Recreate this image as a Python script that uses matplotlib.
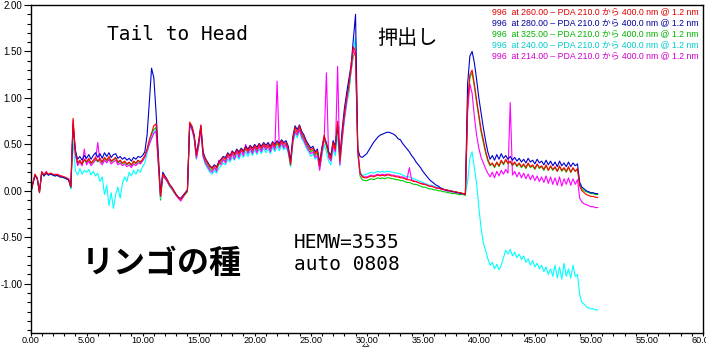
import numpy as np
import matplotlib
matplotlib.use("Agg")
import matplotlib.pyplot as plt
from matplotlib.ticker import MultipleLocator

# sampling grid (minutes), 0.2 min step, 0 .. 50.6
time_min = np.round(np.arange(0, 50.61, 0.2), 2)

red_260 = [
    -0.04, 0.08, 0.18, 0.14, -0.02, 0.21, 0.17, 0.20, 0.18, 0.19,
    0.18, 0.17, 0.18, 0.16, 0.16, 0.15, 0.14, 0.13, 0.04, 0.78,
    0.42, 0.30, 0.33, 0.29, 0.34, 0.31, 0.35, 0.30, 0.33, 0.36,
    0.32, 0.35, 0.31, 0.36, 0.33, 0.37, 0.32, 0.34, 0.36, 0.31,
    0.33, 0.30, 0.32, 0.29, 0.31, 0.28, 0.32, 0.30, 0.33, 0.31,
    0.34, 0.38, 0.45, 0.55, 0.62, 0.70, 0.72, 0.35, -0.06, 0.18,
    0.15, 0.12, 0.07, 0.04, 0.00, -0.04, -0.07, -0.09, -0.06, -0.03,
    0.00, 0.74, 0.70, 0.60, 0.38, 0.52, 0.71, 0.40, 0.34, 0.30,
    0.26, 0.24, 0.27, 0.25, 0.30, 0.33, 0.36, 0.34, 0.40, 0.37,
    0.42, 0.39, 0.44, 0.40, 0.45, 0.42, 0.47, 0.43, 0.48, 0.44,
    0.49, 0.45, 0.50, 0.46, 0.51, 0.47, 0.50, 0.46, 0.52, 0.48,
    0.53, 0.49, 0.54, 0.50, 0.52, 0.45, 0.28, 0.55, 0.68, 0.63,
    0.70, 0.62, 0.58, 0.52, 0.48, 0.44, 0.46, 0.40, 0.43, 0.27,
    0.45, 0.60, 0.50, 0.40, 0.35, 0.52, 0.45, 0.75, 0.32, 0.60,
    0.82, 1.00, 1.12, 1.35, 1.55, 1.50, 0.45, 0.20, 0.15, 0.14,
    0.14, 0.15, 0.16, 0.15, 0.16, 0.17, 0.16, 0.17, 0.16, 0.17,
    0.17, 0.16, 0.16, 0.15, 0.15, 0.14, 0.14, 0.13, 0.12, 0.12,
    0.11, 0.10, 0.10, 0.09, 0.08, 0.07, 0.07, 0.06, 0.05, 0.05,
    0.04, 0.03, 0.03, 0.02, 0.02, 0.01, 0.01, 0.00, 0.00, -0.01,
    -0.01, -0.02, -0.02, -0.03, -0.04, 0.95, 1.25, 1.30, 1.15, 0.98,
    0.82, 0.66, 0.55, 0.43, 0.34, 0.28, 0.30, 0.26, 0.31, 0.27,
    0.33, 0.29, 0.34, 0.30, 0.32, 0.28, 0.31, 0.27, 0.30, 0.26,
    0.29, 0.25, 0.30, 0.26, 0.28, 0.24, 0.29, 0.25, 0.27, 0.23,
    0.28, 0.22, 0.27, 0.23, 0.26, 0.21, 0.27, 0.22, 0.25, 0.21,
    0.26, 0.20, 0.25, 0.21, 0.24, 0.05, 0.00, -0.02, -0.04, -0.05,
    -0.06, -0.06, -0.07, -0.07,
]

blue_280 = [
    -0.03, 0.07, 0.17, 0.13, -0.01, 0.20, 0.16, 0.19, 0.17, 0.18,
    0.17, 0.16, 0.17, 0.15, 0.15, 0.14, 0.13, 0.12, 0.04, 0.72,
    0.44, 0.34, 0.37, 0.33, 0.38, 0.35, 0.39, 0.34, 0.38, 0.41,
    0.36, 0.40, 0.35, 0.41, 0.37, 0.41, 0.36, 0.39, 0.40, 0.35,
    0.37, 0.34, 0.36, 0.33, 0.35, 0.32, 0.36, 0.34, 0.37, 0.36,
    0.38, 0.42, 0.60, 0.95, 1.32, 1.22, 0.85, 0.40, -0.04, 0.20,
    0.16, 0.12, 0.07, 0.04, 0.00, -0.04, -0.07, -0.08, -0.05, -0.02,
    0.01, 0.72, 0.69, 0.60, 0.40, 0.53, 0.70, 0.42, 0.35, 0.31,
    0.27, 0.25, 0.28, 0.26, 0.31, 0.34, 0.37, 0.36, 0.41, 0.38,
    0.43, 0.40, 0.45, 0.42, 0.46, 0.43, 0.48, 0.45, 0.49, 0.46,
    0.50, 0.47, 0.51, 0.48, 0.52, 0.49, 0.52, 0.48, 0.53, 0.50,
    0.54, 0.51, 0.55, 0.52, 0.54, 0.48, 0.32, 0.58, 0.70, 0.66,
    0.71, 0.64, 0.60, 0.54, 0.50, 0.46, 0.48, 0.42, 0.45, 0.30,
    0.47, 0.58, 0.52, 0.42, 0.38, 0.54, 0.48, 0.72, 0.36, 0.65,
    0.88, 1.05, 1.20, 1.35, 1.62, 1.90, 0.45, 0.37, 0.36, 0.38,
    0.40, 0.44, 0.48, 0.52, 0.55, 0.58, 0.60, 0.61, 0.62, 0.63,
    0.63, 0.62, 0.61, 0.59, 0.56, 0.55, 0.51, 0.48, 0.45, 0.42,
    0.38, 0.35, 0.31, 0.28, 0.25, 0.21, 0.18, 0.15, 0.12, 0.10,
    0.08, 0.06, 0.05, 0.03, 0.02, 0.01, 0.00, 0.00, -0.01, -0.01,
    -0.02, -0.02, -0.03, -0.03, -0.03, 1.15, 1.45, 1.50, 1.38, 1.20,
    1.00, 0.84, 0.68, 0.54, 0.42, 0.34, 0.38, 0.33, 0.39, 0.34,
    0.40, 0.35, 0.38, 0.34, 0.37, 0.33, 0.36, 0.32, 0.35, 0.31,
    0.34, 0.30, 0.35, 0.31, 0.33, 0.29, 0.34, 0.30, 0.32, 0.28,
    0.33, 0.28, 0.32, 0.27, 0.31, 0.26, 0.32, 0.27, 0.30, 0.26,
    0.31, 0.26, 0.30, 0.27, 0.29, 0.09, 0.04, 0.02, 0.00, -0.01,
    -0.02, -0.02, -0.03, -0.03,
]

green_325 = [
    -0.04, 0.07, 0.17, 0.13, -0.02, 0.19, 0.16, 0.19, 0.17, 0.18,
    0.17, 0.16, 0.17, 0.15, 0.15, 0.14, 0.13, 0.12, 0.03, 0.70,
    0.40, 0.29, 0.32, 0.28, 0.33, 0.30, 0.34, 0.29, 0.32, 0.34,
    0.31, 0.34, 0.30, 0.35, 0.32, 0.35, 0.31, 0.33, 0.35, 0.30,
    0.32, 0.29, 0.31, 0.28, 0.30, 0.27, 0.31, 0.29, 0.32, 0.30,
    0.33, 0.37, 0.44, 0.52, 0.60, 0.66, 0.68, 0.30, -0.10, 0.15,
    0.13, 0.10, 0.05, 0.02, -0.02, -0.05, -0.08, -0.10, -0.07, -0.04,
    -0.01, 0.70, 0.67, 0.58, 0.36, 0.49, 0.68, 0.38, 0.32, 0.28,
    0.24, 0.22, 0.25, 0.23, 0.28, 0.31, 0.34, 0.32, 0.38, 0.35,
    0.40, 0.37, 0.42, 0.38, 0.43, 0.40, 0.45, 0.41, 0.46, 0.42,
    0.47, 0.43, 0.48, 0.44, 0.49, 0.45, 0.48, 0.44, 0.50, 0.46,
    0.51, 0.47, 0.52, 0.48, 0.50, 0.43, 0.27, 0.52, 0.65, 0.60,
    0.67, 0.60, 0.56, 0.50, 0.46, 0.42, 0.44, 0.38, 0.41, 0.26,
    0.43, 0.56, 0.48, 0.38, 0.33, 0.49, 0.43, 0.68, 0.30, 0.56,
    0.78, 0.95, 1.06, 1.28, 1.45, 1.48, 0.40, 0.16, 0.12, 0.11,
    0.11, 0.12, 0.13, 0.12, 0.13, 0.14, 0.13, 0.14, 0.13, 0.14,
    0.14, 0.13, 0.13, 0.12, 0.12, 0.11, 0.11, 0.10, 0.09, 0.09,
    0.08, 0.07, 0.07, 0.06, 0.05, 0.04, 0.04, 0.03, 0.02, 0.02,
    0.01, 0.01, 0.00, 0.00, -0.01, -0.01, -0.02, -0.02, -0.03, -0.03,
    -0.03, -0.04, -0.04, -0.04, -0.05, 0.90, 1.22, 1.27, 1.12, 0.95,
    0.79, 0.63, 0.52, 0.41, 0.32, 0.27, 0.29, 0.25, 0.30, 0.26,
    0.32, 0.28, 0.33, 0.29, 0.31, 0.27, 0.30, 0.26, 0.29, 0.25,
    0.28, 0.24, 0.29, 0.25, 0.27, 0.23, 0.28, 0.24, 0.26, 0.22,
    0.27, 0.22, 0.26, 0.22, 0.25, 0.21, 0.26, 0.21, 0.24, 0.20,
    0.25, 0.20, 0.24, 0.21, 0.23, 0.07, 0.02, 0.00, -0.01, -0.02,
    -0.03, -0.03, -0.04, -0.04,
]

cyan_240 = [
    -0.04, 0.07, 0.17, 0.13, -0.02, 0.20, 0.16, 0.19, 0.17, 0.18,
    0.17, 0.16, 0.17, 0.15, 0.15, 0.14, 0.13, 0.12, 0.02, 0.55,
    0.22, 0.17, 0.24, 0.18, 0.22, 0.20, 0.23, 0.17, 0.21, 0.16,
    0.19, 0.10, 0.15, -0.04, 0.06, -0.16, -0.02, -0.19, -0.04, 0.04,
    -0.08, 0.08, 0.15, 0.10, 0.20, 0.16, 0.22, 0.18, 0.23, 0.20,
    0.26, 0.30, 0.40, 0.50, 0.58, 0.64, 0.66, 0.30, -0.08, 0.17,
    0.14, 0.11, 0.06, 0.03, -0.01, -0.05, -0.08, -0.09, -0.06, -0.03,
    0.00, 0.70, 0.66, 0.56, 0.34, 0.48, 0.66, 0.36, 0.28, 0.24,
    0.20, 0.18, 0.22, 0.19, 0.24, 0.27, 0.30, 0.28, 0.34, 0.31,
    0.36, 0.33, 0.38, 0.34, 0.40, 0.36, 0.42, 0.37, 0.43, 0.38,
    0.44, 0.39, 0.45, 0.40, 0.46, 0.41, 0.45, 0.40, 0.47, 0.42,
    0.48, 0.43, 0.49, 0.44, 0.47, 0.40, 0.26, 0.50, 0.62, 0.57,
    0.64, 0.56, 0.52, 0.46, 0.42, 0.37, 0.40, 0.34, 0.37, 0.24,
    0.38, 0.50, 0.42, 0.32, 0.28, 0.44, 0.38, 0.62, 0.27, 0.55,
    0.75, 0.92, 1.08, 1.30, 1.50, 1.65, 0.42, 0.20, 0.17, 0.17,
    0.18, 0.19, 0.20, 0.19, 0.20, 0.21, 0.20, 0.21, 0.20, 0.21,
    0.21, 0.20, 0.20, 0.19, 0.19, 0.18, 0.17, 0.16, 0.15, 0.15,
    0.14, 0.13, 0.12, 0.11, 0.10, 0.09, 0.08, 0.07, 0.06, 0.06,
    0.05, 0.04, 0.03, 0.03, 0.02, 0.01, 0.01, 0.00, 0.00, -0.01,
    -0.01, -0.02, -0.02, -0.03, -0.04, 0.10, 0.35, 0.42, 0.25, 0.08,
    -0.18, -0.40, -0.56, -0.64, -0.73, -0.80, -0.77, -0.84, -0.79, -0.85,
    -0.80, -0.72, -0.64, -0.68, -0.63, -0.70, -0.66, -0.72, -0.68, -0.74,
    -0.70, -0.77, -0.73, -0.80, -0.75, -0.82, -0.78, -0.84, -0.80, -0.87,
    -0.82, -0.90, -0.84, -0.92, -0.80, -0.94, -0.82, -0.95, -0.78, -0.92,
    -0.84, -0.94, -0.80, -0.92, -0.90, -1.12, -1.20, -1.22, -1.25, -1.26,
    -1.27, -1.27, -1.28, -1.28,
]

magenta_214 = [
    -0.03, 0.08, 0.16, 0.14, 0.00, 0.20, 0.17, 0.21, 0.17, 0.19,
    0.17, 0.18, 0.16, 0.17, 0.15, 0.15, 0.13, 0.12, 0.05, 0.76,
    0.40, 0.27, 0.31, 0.27, 0.45, 0.28, 0.32, 0.27, 0.30, 0.33,
    0.52, 0.31, 0.28, 0.33, 0.30, 0.34, 0.29, 0.31, 0.33, 0.28,
    0.30, 0.27, 0.29, 0.26, 0.28, 0.25, 0.29, 0.27, 0.30, 0.29,
    0.32, 0.36, 0.43, 0.50, 0.56, 0.62, 0.64, 0.30, -0.06, 0.16,
    0.14, 0.10, 0.06, 0.03, -0.01, -0.05, -0.08, -0.11, -0.07, -0.03,
    0.00, 0.70, 0.66, 0.57, 0.35, 0.48, 0.66, 0.37, 0.30, 0.26,
    0.22, 0.20, 0.25, 0.21, 0.33, 0.28, 0.34, 0.30, 0.38, 0.33,
    0.40, 0.34, 0.42, 0.36, 0.44, 0.38, 0.50, 0.40, 0.46, 0.40,
    0.47, 0.41, 0.48, 0.42, 0.49, 0.44, 0.48, 0.42, 0.50, 0.44,
    1.18, 0.46, 0.52, 0.46, 0.50, 0.42, 0.30, 0.52, 0.64, 0.60,
    0.66, 0.58, 0.54, 0.48, 0.44, 0.40, 0.42, 0.36, 0.38, 0.22,
    0.40, 0.55, 1.27, 0.36, 0.32, 0.48, 0.42, 1.34, 0.28, 0.55,
    0.78, 0.95, 1.15, 1.30, 1.52, 1.45, 0.42, 0.18, 0.16, 0.15,
    0.15, 0.16, 0.17, 0.16, 0.17, 0.18, 0.17, 0.18, 0.17, 0.18,
    0.18, 0.17, 0.17, 0.16, 0.16, 0.15, 0.15, 0.14, 0.13, 0.25,
    0.12, 0.11, 0.10, 0.09, 0.08, 0.08, 0.07, 0.06, 0.05, 0.05,
    0.04, 0.03, 0.03, 0.02, 0.01, 0.01, 0.00, 0.00, -0.01, -0.01,
    -0.02, -0.02, -0.03, -0.03, -0.04, 0.85, 1.15, 1.05, 0.80, 0.60,
    0.46, 0.36, 0.30, 0.24, 0.19, 0.15, 0.20, 0.14, 0.21, 0.16,
    0.22, 0.18, 0.23, 0.19, 0.95, 0.17, 0.21, 0.15, 0.20, 0.14,
    0.19, 0.13, 0.18, 0.12, 0.17, 0.11, 0.16, 0.10, 0.15, 0.09,
    0.16, 0.08, 0.15, 0.07, 0.14, 0.06, 0.15, 0.05, 0.13, 0.07,
    0.14, 0.06, 0.13, 0.07, 0.12, -0.08, -0.12, -0.14, -0.15, -0.16,
    -0.17, -0.17, -0.18, -0.18,
]

legend_labels = [
    "996  at 260.00 – PDA 210.0 から 400.0 nm @ 1.2 nm",
    "996  at 280.00 – PDA 210.0 から 400.0 nm @ 1.2 nm",
    "996  at 325.00 – PDA 210.0 から 400.0 nm @ 1.2 nm",
    "996  at 240.00 – PDA 210.0 から 400.0 nm @ 1.2 nm",
    "996  at 214.00 – PDA 210.0 から 400.0 nm @ 1.2 nm",
]
legend_colors = ["#E00000", "#000099", "#00B400", "#00CCCC", "#D000D0"]

x_ticks = [0, 5, 10, 15, 20, 25, 30, 35, 40, 45, 50, 55, 60]
y_ticks = [-1.0, -0.5, 0.0, 0.5, 1.0, 1.5, 2.0]

W, H = 706, 347
fig = plt.figure(figsize=(W / 100, H / 100), dpi=100)
ax = fig.add_axes([30.5 / W, (H - 333) / H, (703 - 30.5) / W, (333 - 5) / H])

lw = 0.8
ax.plot(time_min, green_325, color="#00C800", lw=lw)
ax.plot(time_min, cyan_240, color="#00FFFF", lw=lw)
ax.plot(time_min, magenta_214, color="#FF00FF", lw=lw)
ax.plot(time_min, blue_280, color="#0000CC", lw=lw)
ax.plot(time_min, red_260, color="#FF0000", lw=lw)

ax.set_xlim(0, 60)
ax.set_ylim(-1.53, 2.0)
ax.set_xticks(x_ticks)
ax.set_xticklabels([f"{v:.2f}" for v in x_ticks])
ax.set_yticks(y_ticks)
ax.set_yticklabels([f"{v:.2f}" for v in y_ticks])
ax.xaxis.set_minor_locator(MultipleLocator(1.0))
ax.yaxis.set_minor_locator(MultipleLocator(0.1))
ax.tick_params(axis="y", which="major", direction="out", length=5, width=0.8,
               labelsize=7, pad=1)
ax.tick_params(axis="y", which="minor", direction="out", length=3, width=0.8)
ax.tick_params(axis="x", which="major", direction="out", length=2, width=0.8,
               labelsize=6.6, pad=0.5)
ax.tick_params(axis="x", which="minor", direction="out", length=2, width=0.8)
for lab in ax.get_xticklabels() + ax.get_yticklabels():
    lab.set_family("Liberation Sans")
for s in ax.spines.values():
    s.set_linewidth(1.0)

def px(x, y):
    return x / W, 1 - y / H

mono = "DejaVu Sans Mono"
fig.text(*px(107, 35), "Tail to Head", family=mono, fontsize=14,
         va="center", ha="left")
fig.text(*px(377, 38), "押出し", family=["Noto Sans CJK JP", "DejaVu Sans"],
         fontsize=14.5, va="center", ha="left")
fig.text(*px(82, 264), "リンゴの種", family=["Noto Sans CJK JP", "DejaVu Sans"],
         fontsize=23, fontweight="bold", va="center", ha="left")
fig.text(*px(294, 243), "HEMW=3535", family=mono, fontsize=14,
         va="center", ha="left")
fig.text(*px(294, 265), "auto 0808", family=mono, fontsize=14,
         va="center", ha="left")

for i, (lab, col) in enumerate(zip(legend_labels, legend_colors)):
    fig.text(*px(699, 11.5 + 11 * i), lab, color=col, fontsize=6.3,
             family=["Liberation Sans", "Noto Sans CJK JP"],
             ha="right", va="center")

fig.text(*px(366, 343.5), "分", family=["Noto Sans CJK JP", "DejaVu Sans"],
         fontsize=5.5, ha="center", va="top")

fig.savefig("out.png", dpi=100)
